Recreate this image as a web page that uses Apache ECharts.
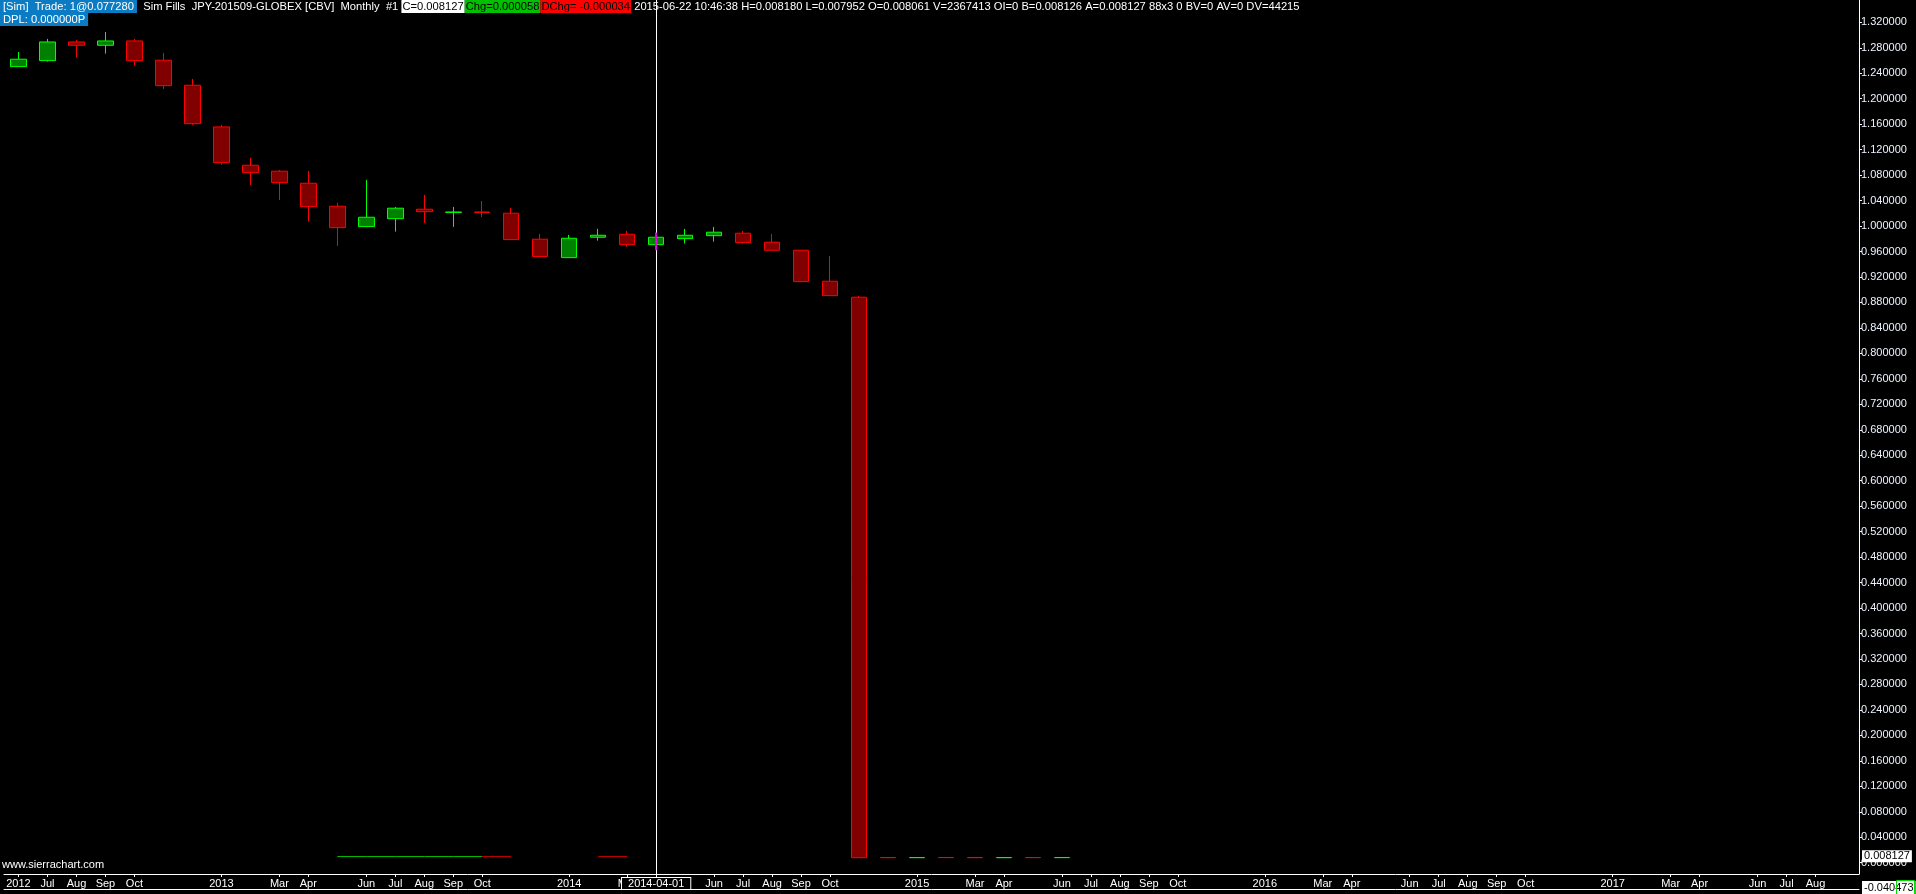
<!DOCTYPE html>
<html>
<head>
<meta charset="utf-8">
<title>JPY-201509-GLOBEX Monthly</title>
<script src="https://cdn.jsdelivr.net/npm/echarts@6.0.0/dist/echarts.min.js"></script>
<style>
  html, body { margin: 0; padding: 0; background: #000; overflow: hidden; }
  #chart { width: 1916px; height: 894px; }
</style>
</head>
<body>
<div id="chart"></div>
<script>
// one slot per month, Jun 2012 .. Sep 2017
var months = [
  '2012-06', '2012-07', '2012-08', '2012-09', '2012-10', '2012-11', '2012-12',
  '2013-01', '2013-02', '2013-03', '2013-04', '2013-05', '2013-06', '2013-07', '2013-08', '2013-09', '2013-10', '2013-11', '2013-12',
  '2014-01', '2014-02', '2014-03', '2014-04', '2014-05', '2014-06', '2014-07', '2014-08', '2014-09', '2014-10', '2014-11', '2014-12',
  '2015-01', '2015-02', '2015-03', '2015-04', '2015-05', '2015-06', '2015-07', '2015-08', '2015-09', '2015-10', '2015-11', '2015-12',
  '2016-01', '2016-02', '2016-03', '2016-04', '2016-05', '2016-06', '2016-07', '2016-08', '2016-09', '2016-10', '2016-11', '2016-12',
  '2017-01', '2017-02', '2017-03', '2017-04', '2017-05', '2017-06', '2017-07', '2017-08', '2017-09'
];
// what the time scale prints under each slot ('' = nothing)
var monthLabels = [
  '2012', 'Jul', 'Aug', 'Sep', 'Oct', '', '',
  '2013', '', 'Mar', 'Apr', '', 'Jun', 'Jul', 'Aug', 'Sep', 'Oct', '', '',
  '2014', '', 'Mar', 'Apr', '', 'Jun', 'Jul', 'Aug', 'Sep', 'Oct', '', '',
  '2015', '', 'Mar', 'Apr', '', 'Jun', 'Jul', 'Aug', 'Sep', 'Oct', '', '',
  '2016', '', 'Mar', 'Apr', '', 'Jun', 'Jul', 'Aug', 'Sep', 'Oct', '', '',
  '2017', '', 'Mar', 'Apr', '', 'Jun', 'Jul', 'Aug', ''
];

// monthly OHLC (37 bars)
var opens = [
  1.2504, 1.2598, 1.2891, 1.2839, 1.2907, 1.2604, 1.2211, 1.1557, 1.0955, 1.0861,
  1.0672, 1.0311, 0.9991, 1.0116, 1.0264, 1.0214, 1.0220, 1.0201, 0.9793, 0.9504,
  0.9824, 0.9871, 0.9708, 0.9802, 0.9849, 0.9887, 0.9746, 0.9620, 0.9133, 0.8882,
  0.00812, 0.00800, 0.00815, 0.00812, 0.00799, 0.00814, 0.008061
];
var closes = [
  1.2620, 1.2891, 1.2839, 1.2907, 1.2598, 1.2205, 1.1608, 1.0996, 1.0839, 1.0682,
  1.0305, 0.9975, 1.0138, 1.0280, 1.0226, 1.0220, 1.0214, 0.9787, 0.9520, 0.9808,
  0.9855, 0.9708, 0.9824, 0.9855, 0.9903, 0.9740, 0.9620, 0.9127, 0.8907, 0.00795,
  0.00798, 0.00813, 0.00809, 0.00797, 0.00811, 0.00806, 0.008127
];
var lows = [
  1.2500, 1.2582, 1.2645, 1.2708, 1.2519, 1.2153, 1.1588, 1.0964, 1.0646, 1.0410,
  1.0069, 0.9688, 0.9985, 0.9912, 1.0049, 0.9986, 1.0143, 0.9780, 0.9515, 0.9500,
  0.9771, 0.9677, 0.9700, 0.9724, 0.9755, 0.9724, 0.9615, 0.9120, 0.8900, 0.00790,
  0.00795, 0.00798, 0.00806, 0.00795, 0.00797, 0.00804, 0.007952
];
var highs = [
  1.2734, 1.2939, 1.2923, 1.3048, 1.2939, 1.2719, 1.2310, 1.1588, 1.1070, 1.0881,
  1.0865, 1.0363, 1.0725, 1.0300, 1.0489, 1.0300, 1.0394, 1.0284, 0.9876, 0.9860,
  0.9955, 0.9923, 0.9830, 0.9955, 0.9986, 0.9923, 0.9876, 0.9625, 0.9531, 0.8902,
  0.00815, 0.00816, 0.00818, 0.00814, 0.00813, 0.00816, 0.008180
];

// thin study line near zero under the 2013/2014 bars, joined centre to centre
var studyUp = [
  '-', '-', '-', '-', '-', '-', '-', '-', '-', '-', '-',
  0.0097, 0.0097, 0.0097, 0.0097, 0.0097, 0.0097
];
var studyDown = [
  '-', '-', '-', '-', '-', '-', '-', '-', '-', '-', '-', '-', '-', '-', '-', '-',
  0.0097, 0.0097, '-', '-', 0.0097, 0.0097
];

// price scale labels
var priceTicks = [
  0.00, 0.04, 0.08, 0.12, 0.16, 0.20, 0.24, 0.28, 0.32, 0.36, 0.40, 0.44,
  0.48, 0.52, 0.56, 0.60, 0.64, 0.68, 0.72, 0.76, 0.80, 0.84, 0.88, 0.92,
  0.96, 1.00, 1.04, 1.08, 1.12, 1.16, 1.20, 1.24, 1.28, 1.32
];

var lastPrice = 0.008127;
var cursorMonth = months[22];

var bars = opens.map(function (o, i) { return [o, closes[i], lows[i], highs[i]]; });

var FONT = 'Liberation Sans';
var HF = 11.2;
var chart = echarts.init(document.getElementById('chart'));

function hStyle(fill, bg) {
  var s = { fill: fill, fontSize: HF, fontFamily: FONT, lineHeight: 13 };
  if (bg) { s.backgroundColor = bg; s.padding = [1, 1, 1, 1]; }
  return s;
}

chart.setOption({
  backgroundColor: '#000000',
  animation: false,
  grid: { left: 4, right: 57, top: 0, bottom: 20, containLabel: false, outerBoundsMode: 'none' },
  xAxis: [{
    type: 'category',
    data: months,
    boundaryGap: true,
    axisLine: { show: true, onZero: false, lineStyle: { color: '#ffffff', width: 1 } },
    axisTick: {
      show: true, alignWithLabel: true, length: 3, inside: false,
      lineStyle: { color: '#ffffff' },
      interval: function (i) { return monthLabels[i] !== ''; }
    },
    axisLabel: {
      interval: 0, margin: 4, color: '#ffffff', fontSize: 11, fontFamily: FONT,
      backgroundColor: '#000000', padding: [0, 2],
      formatter: function (v, i) { return monthLabels[i]; }
    },
    splitLine: { show: false }
  }, {
    // the second rule running under the time labels
    type: 'category',
    data: months,
    position: 'bottom',
    offset: 15,
    axisLine: { show: true, onZero: false, lineStyle: { color: '#ffffff', width: 1 } },
    axisTick: { show: false },
    axisLabel: { show: false },
    splitLine: { show: false }
  }],
  yAxis: {
    type: 'value',
    position: 'right',
    min: -0.0177,
    max: 1.355,
    splitLine: { show: false },
    axisLine: { show: true, lineStyle: { color: '#ffffff', width: 1 } },
    axisTick: { show: true, length: 3, lineStyle: { color: '#ffffff' }, customValues: priceTicks },
    axisLabel: {
      color: '#eef3ff', fontSize: 11, fontFamily: FONT, margin: 2,
      customValues: priceTicks,
      formatter: function (v) { return v.toFixed(6); }
    }
  },
  graphic: [
    {
      type: 'text', left: 0, top: 0, z: 1,
      style: {
        text: '{b|[Sim]  Trade: 1@0.077280}{w|  Sim Fills  JPY-201509-GLOBEX [CBV]  Monthly  #1 }' +
              '{c|C=0.008127}{g|Chg=0.000058}{r|DChg= -0.000034}' +
              '{w| 2015-06-22 10:46:38 H=0.008180 L=0.007952 O=0.008061 V=2367413 OI=0 B=0.008126 A=0.008127 88x3 0 BV=0 AV=0 DV=44215}',
        font: HF + 'px ' + FONT,
        rich: {
          b: { fill: '#ffffff', backgroundColor: '#0b7cc3', padding: [1, 3, 1, 3], fontSize: HF, fontFamily: FONT, lineHeight: 13 },
          w: hStyle('#ffffff'),
          c: hStyle('#000000', '#ffffff'),
          g: hStyle('#000000', '#00c000'),
          r: hStyle('#000000', '#ff0000')
        }
      }
    },
    {
      type: 'text', left: 0, top: 13, z: 1,
      style: {
        text: '{b|DPL: 0.000000P}',
        font: HF + 'px ' + FONT,
        rich: { b: { fill: '#ffffff', backgroundColor: '#0b7cc3', padding: [1, 3, 1, 3], fontSize: HF, fontFamily: FONT, lineHeight: 13 } }
      }
    },
    {
      type: 'text', left: 2, top: 859, z: 1,
      style: { text: 'www.sierrachart.com', fill: '#ffffff', font: '11px ' + FONT }
    },
    {
      type: 'text', left: 1862, top: 881, z: 5,
      style: { text: '-0.040473', fill: '#000000', font: '11px ' + FONT, backgroundColor: '#ffffff', padding: [1, 2, 1, 2] }
    },
    {
      type: 'rect', z: 6,
      shape: { x: 1896.5, y: 880.5, width: 18, height: 15 },
      style: { fill: 'none', stroke: '#00e000', lineWidth: 1 }
    }
  ],
  series: [
    {
      name: 'study up',
      type: 'line',
      data: studyUp,
      symbol: 'none',
      connectNulls: false,
      lineStyle: { color: '#00c000', width: 1 }
    },
    {
      name: 'study down',
      type: 'line',
      data: studyDown,
      symbol: 'none',
      connectNulls: false,
      lineStyle: { color: '#c00000', width: 1 }
    },
    {
      name: 'JPY-201509-GLOBEX',
      type: 'candlestick',
      data: bars,
      barWidth: 16,
      itemStyle: {
        color: '#008000', color0: '#800000',
        borderColor: '#00ff00', borderColor0: '#ff0000',
        borderWidth: 1
      },
      markLine: {
        silent: true,
        symbol: ['none', 'none'],
        animation: false,
        data: [
          {
            xAxis: cursorMonth,
            lineStyle: { color: '#ffffff', width: 1, type: 'solid' },
            label: {
              show: true, position: 'start', formatter: '2014-04-01', distance: 4,
              color: '#ffffff', backgroundColor: '#000000', borderColor: '#ffffff', borderWidth: 1,
              padding: [0, 6, 0, 6], fontSize: 11, fontFamily: FONT
            }
          },
          {
            yAxis: lastPrice,
            lineStyle: { color: 'rgba(0,0,0,0)', width: 0 },
            label: {
              show: true, position: 'end', formatter: lastPrice.toFixed(6), distance: 3,
              color: '#000000', backgroundColor: '#ffffff', padding: [1, 2, 0, 2],
              fontSize: 11, fontFamily: FONT
            }
          },
          [
            { coord: [cursorMonth, 0.990], lineStyle: { color: '#e000e0', width: 2, type: 'solid' }, label: { show: false } },
            { coord: [cursorMonth, 0.962] }
          ]
        ]
      }
    }
  ]
});
</script>
</body>
</html>
